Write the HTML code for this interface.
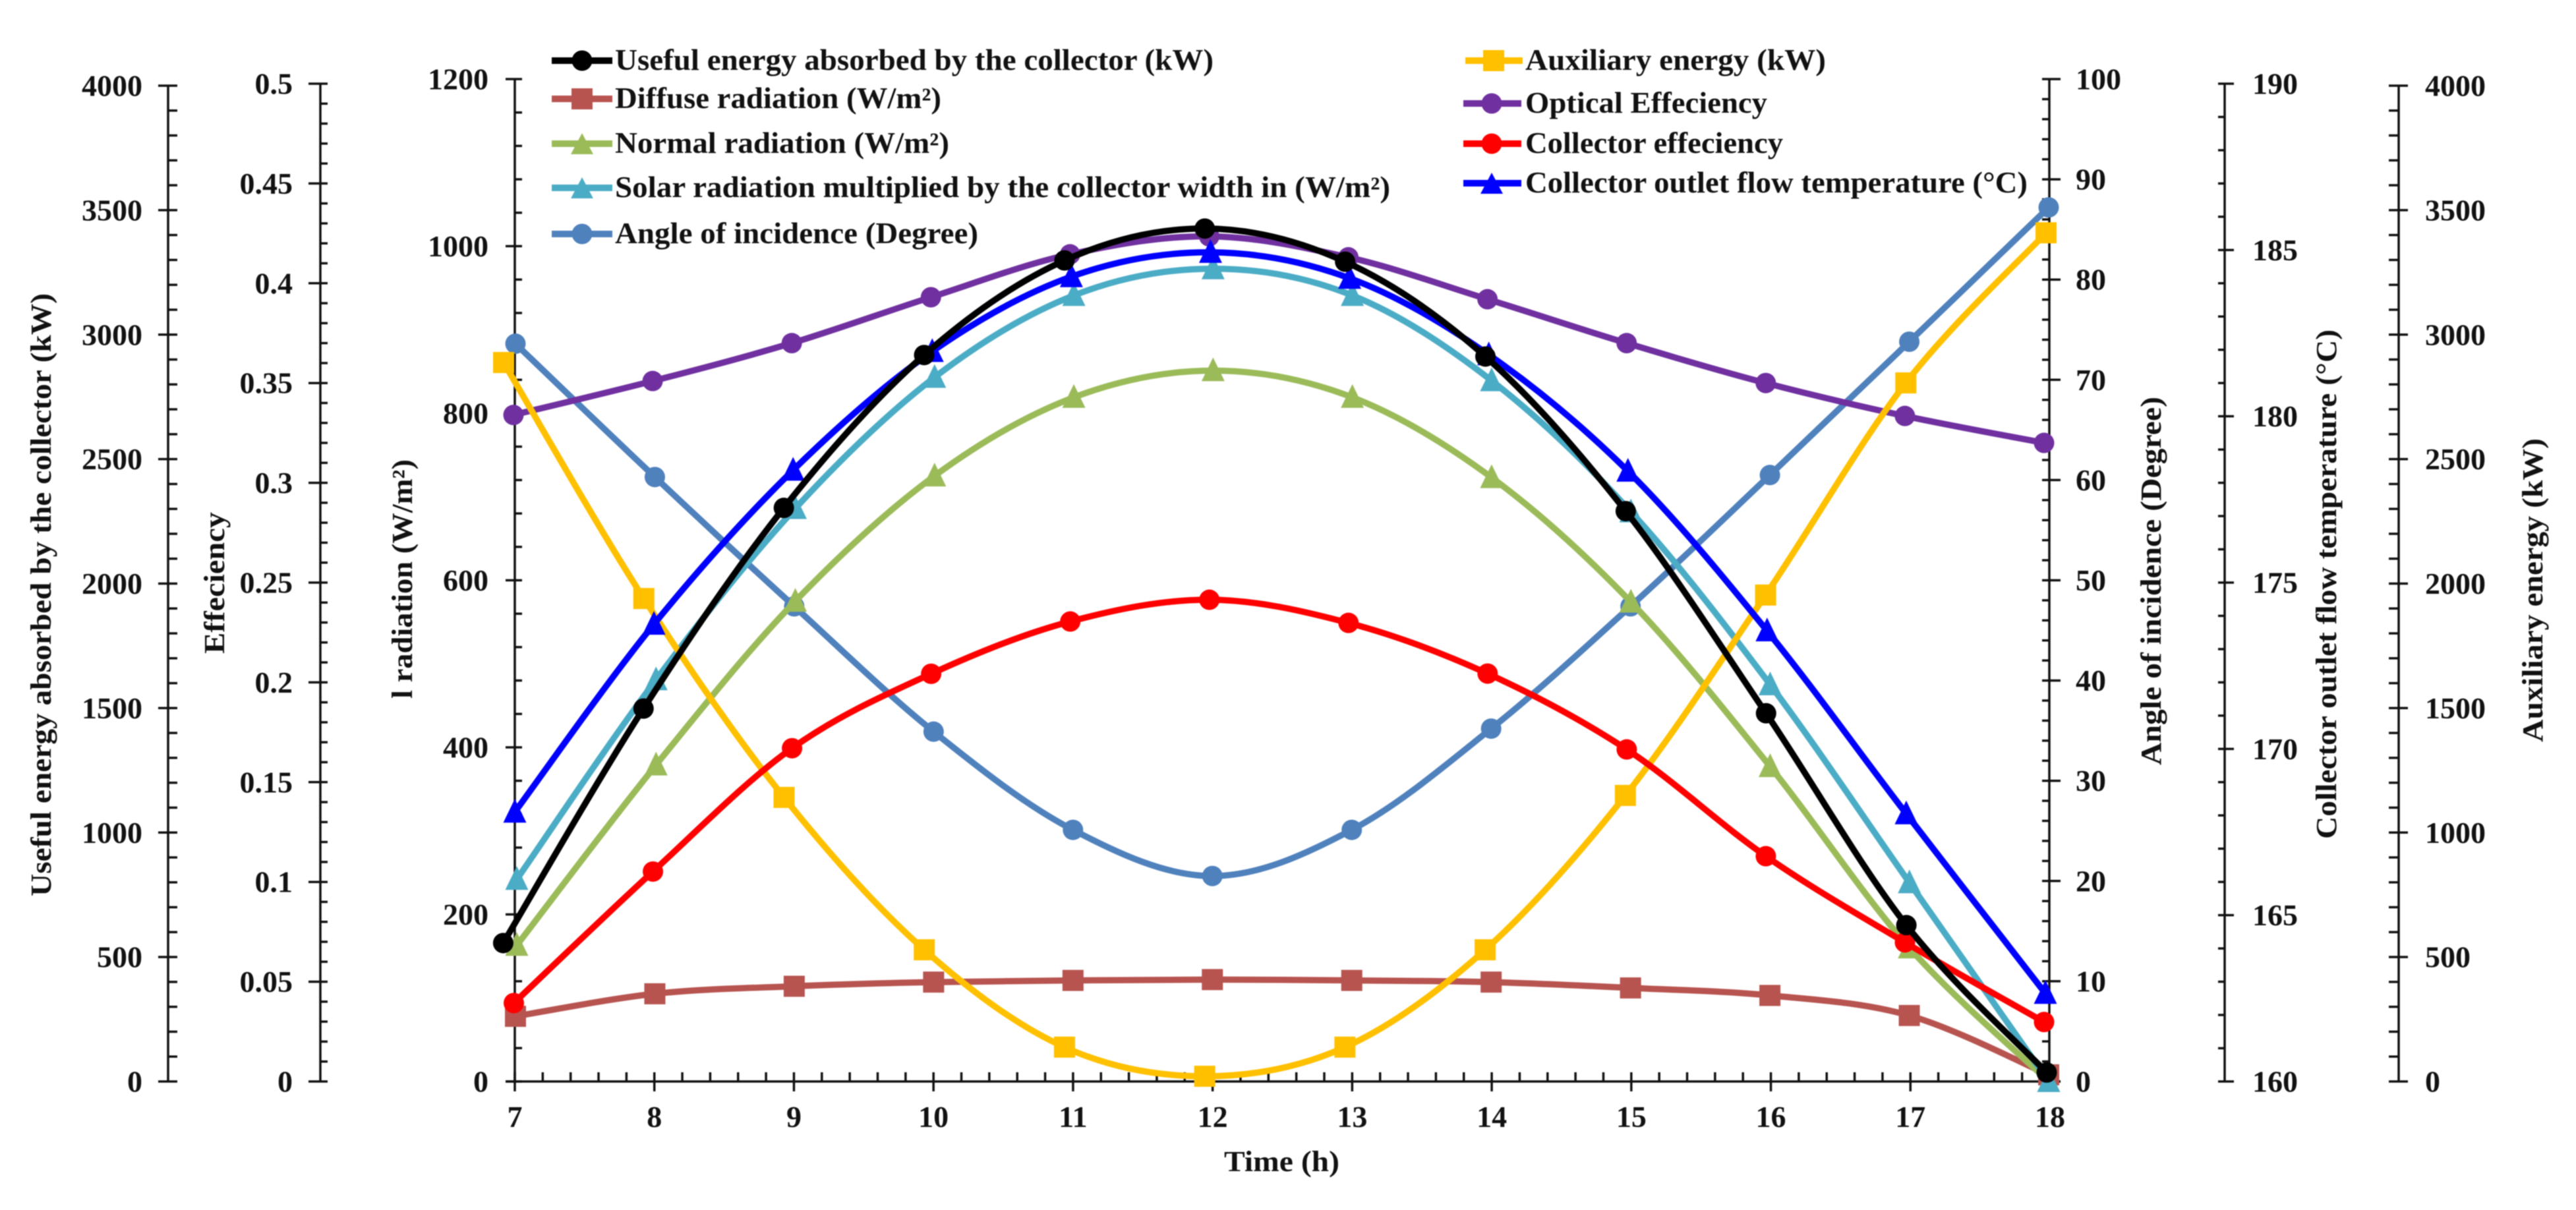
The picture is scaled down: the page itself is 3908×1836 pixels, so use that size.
<!DOCTYPE html>
<html lang="en">
<head>
<meta charset="utf-8">
<title>Collector performance over the day</title>
<style>
html,body{margin:0;padding:0;background:#fff;}
#chart{display:block;width:3908px;height:1836px;filter:blur(0.8px);}
text{font-family:"Liberation Serif","Times New Roman",serif;font-weight:bold;fill:#111;}
.tick-label{font-size:46px;}
.axis-title{font-size:44px;}
.legend-text{font-size:45px;}
</style>
</head>
<body>
<svg id="chart" xmlns="http://www.w3.org/2000/svg" width="3908" height="1836" viewBox="0 0 3908 1836">
  <rect x="0" y="0" width="3908" height="1836" fill="#fff"/>
  <g id="axes"></g>
  <g id="series"></g>

  <text class="axis-title" transform="translate(77 1360) rotate(-90)" textLength="915" lengthAdjust="spacingAndGlyphs">Useful energy absorbed by the collector (kW)</text>
  <text class="axis-title" transform="translate(340 992) rotate(-90)" textLength="215" lengthAdjust="spacingAndGlyphs">Effeciency</text>
  <text class="axis-title" transform="translate(625 1060) rotate(-90)" textLength="363" lengthAdjust="spacingAndGlyphs">l radiation (W/m²)</text>
  <text class="axis-title" transform="translate(3278 1161) rotate(-90)" textLength="559" lengthAdjust="spacingAndGlyphs">Angle of incidence (Degree)</text>
  <text class="axis-title" transform="translate(3544 1273) rotate(-90)" textLength="773" lengthAdjust="spacingAndGlyphs">Collector outlet flow temperature (°C)</text>
  <text class="axis-title" transform="translate(3857 1126) rotate(-90)" textLength="461" lengthAdjust="spacingAndGlyphs">Auxiliary energy (kW)</text>
  <text class="axis-title" x="1857" y="1777" textLength="175" lengthAdjust="spacingAndGlyphs">Time (h)</text>

  <g>
    <g>
      <line x1="837" y1="92" x2="929" y2="92" stroke="#000" stroke-width="10"/><circle cx="883" cy="92" r="15.5" fill="#000"/>
      <text class="legend-text" x="933" y="106" textLength="908" lengthAdjust="spacingAndGlyphs">Useful energy absorbed by the collector (kW)</text>
    </g>
    <g>
      <line x1="837" y1="150" x2="929" y2="150" stroke="#b85450" stroke-width="10"/><rect x="867" y="134" width="32" height="32" fill="#b85450"/>
      <text class="legend-text" x="933" y="164" textLength="495" lengthAdjust="spacingAndGlyphs">Diffuse radiation (W/m²)</text>
    </g>
    <g>
      <line x1="837" y1="218" x2="929" y2="218" stroke="#9bbb59" stroke-width="10"/><polygon points="883,202 900,234 866,234" fill="#9bbb59"/>
      <text class="legend-text" x="933" y="232" textLength="507" lengthAdjust="spacingAndGlyphs">Normal radiation (W/m²)</text>
    </g>
    <g>
      <line x1="837" y1="285" x2="929" y2="285" stroke="#4bacc6" stroke-width="10"/><polygon points="883,269 900,301 866,301" fill="#4bacc6"/>
      <text class="legend-text" x="933" y="299" textLength="1176" lengthAdjust="spacingAndGlyphs">Solar radiation multiplied by the collector width in (W/m²)</text>
    </g>
    <g>
      <line x1="837" y1="355" x2="929" y2="355" stroke="#4f81bd" stroke-width="10"/><circle cx="883" cy="355" r="15.5" fill="#4f81bd"/>
      <text class="legend-text" x="933" y="369" textLength="551" lengthAdjust="spacingAndGlyphs">Angle of incidence (Degree)</text>
    </g>
    <g>
      <line x1="2223" y1="92" x2="2310" y2="92" stroke="#ffc000" stroke-width="10"/><rect x="2250" y="76" width="32" height="32" fill="#ffc000"/>
      <text class="legend-text" x="2314" y="106" textLength="456" lengthAdjust="spacingAndGlyphs">Auxiliary energy (kW)</text>
    </g>
    <g>
      <line x1="2220" y1="157" x2="2308" y2="157" stroke="#7030a0" stroke-width="10"/><circle cx="2263" cy="157" r="15.5" fill="#7030a0"/>
      <text class="legend-text" x="2314" y="171" textLength="367" lengthAdjust="spacingAndGlyphs">Optical Effeciency</text>
    </g>
    <g>
      <line x1="2220" y1="218" x2="2308" y2="218" stroke="#ff0000" stroke-width="10"/><circle cx="2263" cy="218" r="15.5" fill="#ff0000"/>
      <text class="legend-text" x="2314" y="232" textLength="391" lengthAdjust="spacingAndGlyphs">Collector effeciency</text>
    </g>
    <g>
      <line x1="2220" y1="278" x2="2308" y2="278" stroke="#0000ff" stroke-width="10"/><polygon points="2263,262 2280,294 2246,294" fill="#0000ff"/>
      <text class="legend-text" x="2314" y="292" textLength="762" lengthAdjust="spacingAndGlyphs">Collector outlet flow temperature (°C)</text>
    </g>
  </g>
</svg>

<script>
// ---- Data ----
const hours = [7, 8, 9, 10, 11, 12, 13, 14, 15, 16, 17, 18];

const usefulEnergy      = [556, 1498, 2304, 2918, 3298, 3426, 3293, 2912, 2291, 1479, 628, 36];
const diffuseRadiation  = [78, 105, 114, 119, 121, 122, 121, 119, 112, 103, 79, 8];
const normalRadiation   = [163, 379, 575, 725, 819, 851, 819, 723, 574, 377, 160, 0];
const solarRadiation    = [242, 481, 686, 843, 941, 973, 941, 839, 682, 475, 238, 0];
const angleOfIncidence  = [73.6, 60.3, 47.4, 34.9, 25.1, 20.5, 25.1, 35.2, 47.4, 60.5, 73.8, 87.2];
const auxiliaryEnergy   = [2888, 1940, 1141, 529, 138, 21, 138, 529, 1149, 1954, 2806, 3409];
const opticalEfficiency = [0.334, 0.351, 0.370, 0.393, 0.4145, 0.4235, 0.413, 0.392, 0.370, 0.350, 0.3335, 0.320];
const collectorEfficiency = [0.0393, 0.1052, 0.167, 0.2043, 0.2305, 0.2414, 0.2298, 0.2044, 0.1664, 0.1129, 0.0697, 0.0298];
const outletTemperature = [168.1, 173.75, 178.38, 181.95, 184.2, 184.93, 184.15, 181.85, 178.35, 173.55, 168.05, 162.65];

const usefulTicks = ['0', '500', '1000', '1500', '2000', '2500', '3000', '3500', '4000'];
const efficiencyTicks = ['0', '0.05', '0.1', '0.15', '0.2', '0.25', '0.3', '0.35', '0.4', '0.45', '0.5'];
const radiationTicks = ['0', '200', '400', '600', '800', '1000', '1200'];
const angleTicks = ['0', '10', '20', '30', '40', '50', '60', '70', '80', '90', '100'];
const temperatureTicks = ['160', '165', '170', '175', '180', '185', '190'];
const auxiliaryTicks = ['0', '500', '1000', '1500', '2000', '2500', '3000', '3500', '4000'];

// ---- Axis functions ----
const NS = 'http://www.w3.org/2000/svg';
const baseY = 1641;

function yAxis(min, max, top) {
  return function (v) { return baseY - (v - min) / (max - min) * (baseY - top); };
}
function xAxis(left, right) {
  return function (h) { return left + (h - hours[0]) / (hours[hours.length - 1] - hours[0]) * (right - left); };
}

const yUseful = yAxis(0, 4000, 130);
const yEfficiency = yAxis(0, 0.5, 127);
const yRadiation = yAxis(0, 1200, 120);
const yAngle = yAxis(0, 100, 120);
const yTemperature = yAxis(160, 190, 127);
const yAuxiliary = yAxis(0, 4000, 130);
const xFrame = xAxis(781, 3110);

function svgEl(tag, attrs, parent) {
  const el = document.createElementNS(NS, tag);
  for (const k in attrs) el.setAttribute(k, attrs[k]);
  parent.appendChild(el);
  return el;
}

const axesLayer = document.getElementById('axes');
const seriesLayer = document.getElementById('series');
const axisInk = { stroke: '#111', 'stroke-width': 3.5 };

function tickLine(parent, x1, y1, x2, y2) {
  const t = svgEl('line', { x1: x1, y1: y1, x2: x2, y2: y2, stroke: axisInk.stroke, 'stroke-width': axisInk['stroke-width'] }, parent);
  
  
  return t;
}

function drawYAxis(name, ticks, scale, x, majorL, majorR, minorL, minorR, labelX, anchor) {
  const g = svgEl('g', {}, axesLayer);
  
  
  const vals = ticks.map(Number);
  const spine = svgEl('line', { x1: x, y1: scale(vals[vals.length - 1]) - 1.5, x2: x, y2: scale(vals[0]) + 1.5, stroke: axisInk.stroke, 'stroke-width': axisInk['stroke-width'] }, g);
  
  
  ticks.forEach(function (label, i) {
    const y = scale(vals[i]);
    tickLine(g, majorL, y, majorR, y);
    const t = svgEl('text', { class: 'tick-label', x: labelX, y: y + 15.5, 'text-anchor': anchor }, g);
    t.textContent = label;
    
    
    if (i < ticks.length - 1) {
      for (let m = 1; m < 5; m++) {
        const my = scale(vals[i] + (vals[i + 1] - vals[i]) * m / 5);
        tickLine(g, minorL, my, minorR, my);
      }
    }
  });
}

drawYAxis('useful-energy-axis', usefulTicks, yUseful, 255, 240, 269, 255, 269, 216, 'end');
drawYAxis('efficiency-axis', efficiencyTicks, yEfficiency, 486, 468, 497, 486, 497, 444, 'end');
drawYAxis('radiation-axis', radiationTicks, yRadiation, 781, 767, 792, 781, 792, 741, 'end');
drawYAxis('angle-axis', angleTicks, yAngle, 3109, 3098, 3126, 3098, 3109, 3149, 'start');
drawYAxis('temperature-axis', temperatureTicks, yTemperature, 3375, 3365, 3389, 3365, 3375, 3417, 'start');
drawYAxis('auxiliary-energy-axis', auxiliaryTicks, yAuxiliary, 3639, 3624, 3653, 3624, 3639, 3679, 'start');

// X axis
const xGroup = svgEl('g', {}, axesLayer);


const xLine = svgEl('line', { x1: 767, y1: baseY, x2: 3126, y2: baseY, stroke: axisInk.stroke, 'stroke-width': axisInk['stroke-width'] }, xGroup);


hours.forEach(function (h, i) {
  const x = xFrame(h);
  tickLine(xGroup, x, baseY - 14, x, baseY + 15);
  const t = svgEl('text', { class: 'tick-label', x: x, y: 1710, 'text-anchor': 'middle' }, xGroup);
  t.textContent = String(h);
  
  
  if (i < hours.length - 1) {
    for (let m = 1; m < 5; m++) {
      const mx = xFrame(h + m / 5);
      tickLine(xGroup, mx, baseY - 14, mx, baseY);
    }
  }
});

// Smoothed line through points (Catmull-Rom to Bezier)
function smoothPath(pts) {
  let d = 'M' + pts[0][0].toFixed(1) + ' ' + pts[0][1].toFixed(1);
  for (let i = 0; i < pts.length - 1; i++) {
    const p0 = pts[i - 1] || pts[i];
    const p1 = pts[i];
    const p2 = pts[i + 1];
    const p3 = pts[i + 2] || p2;
    const c1x = p1[0] + (p2[0] - p0[0]) / 6, c1y = p1[1] + (p2[1] - p0[1]) / 6;
    const c2x = p2[0] - (p3[0] - p1[0]) / 6, c2y = p2[1] - (p3[1] - p1[1]) / 6;
    d += ' C' + c1x.toFixed(1) + ' ' + c1y.toFixed(1) + ' ' + c2x.toFixed(1) + ' ' + c2y.toFixed(1) + ' ' + p2[0].toFixed(1) + ' ' + p2[1].toFixed(1);
  }
  return d;
}

function drawMarker(parent, shape, cx, cy, color) {
  let m;
  if (shape === 'circle') {
    m = svgEl('circle', { cx: cx, cy: cy, r: 15.5, fill: color }, parent);
  } else if (shape === 'square') {
    m = svgEl('rect', { x: cx - 16, y: cy - 16, width: 32, height: 32, fill: color }, parent);
  } else {
    m = svgEl('polygon', { points: cx + ',' + (cy - 20) + ' ' + (cx + 17.5) + ',' + (cy + 16) + ' ' + (cx - 17.5) + ',' + (cy + 16), fill: color }, parent);
  }
  return m;
}

function drawSeries(name, values, xScale, yScale, color, shape) {
  const g = svgEl('g', {}, seriesLayer);
  
  
  const pts = hours.map(function (h, i) { return [xScale(h), yScale(values[i])]; });
  const line = svgEl('path', { d: smoothPath(pts), fill: 'none', stroke: color, 'stroke-width': 9.5, 'stroke-linejoin': 'round' }, g);
  
  
  pts.forEach(function (p) {
    const mark = drawMarker(g, shape, p[0], p[1], color);
    
    
  });
}

// Draw order follows the overlaps visible in the picture
drawSeries('angle-of-incidence-series', angleOfIncidence, xAxis(782, 3108), yAngle, '#4f81bd', 'circle');
drawSeries('diffuse-radiation-series', diffuseRadiation, xAxis(782, 3108), yRadiation, '#b85450', 'square');
drawSeries('normal-radiation-series', normalRadiation, xAxis(784, 3108), yRadiation, '#9bbb59', 'triangle');
drawSeries('solar-radiation-series', solarRadiation, xAxis(784, 3108), yRadiation, '#4bacc6', 'triangle');
drawSeries('optical-efficiency-series', opticalEfficiency, xAxis(779, 3101), yEfficiency, '#7030a0', 'circle');
drawSeries('auxiliary-energy-series', auxiliaryEnergy, xAxis(764, 3104), yAuxiliary, '#ffc000', 'square');
drawSeries('collector-efficiency-series', collectorEfficiency, xAxis(779.5, 3101), yEfficiency, '#ff0000', 'circle');
drawSeries('outlet-temperature-series', outletTemperature, xAxis(781, 3103), yTemperature, '#0000ff', 'triangle');
drawSeries('useful-energy-series', usefulEnergy, xAxis(763.4, 3105), yUseful, '#000000', 'circle');
</script>
</body>
</html>
